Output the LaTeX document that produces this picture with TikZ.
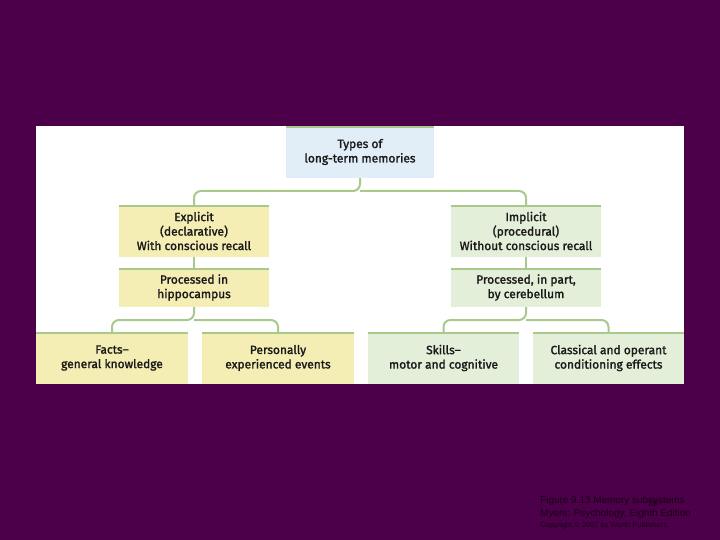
\documentclass[tikz,border=0pt]{standalone}
\usepackage{fontspec}
\setmainfont{Fira Sans}
\newfontfamily\footfont{Liberation Sans}
\definecolor{bgpurple}{HTML}{4B0049}
\definecolor{boxyellow}{HTML}{F4EDB4}
\definecolor{boxgreen}{HTML}{E4EFDA}
\definecolor{boxblue}{HTML}{E2EEF7}
\definecolor{linegreen}{HTML}{A9C98B}
\definecolor{foottext}{HTML}{1A0018}
\tikzset{
  box/.style={inner sep=0pt, align=center, font=\fontsize{12}{14.5}\selectfont\addfontfeatures{FakeBold=1.6}, text=black!90},
  ybox/.style={box, fill=boxyellow},
  gbox/.style={box, fill=boxgreen},
  bbox/.style={box, fill=boxblue},
  topline/.style={draw=linegreen, line width=2.5bp},
  conn/.style={draw=linegreen, line width=2bp, rounded corners=7bp},
  foot/.style={anchor=west, inner sep=0pt, text=foottext, font=\footfont\fontsize{10}{12}\selectfont}
}
\begin{document}
\begin{tikzpicture}[x=1bp,y=-1bp]
\fill[bgpurple] (0,0) rectangle (720,540);
\useasboundingbox (0,0) rectangle (720,540);
\fill[white] (36,126) rectangle (684,384);
% boxes
\node[bbox, minimum width=148bp, minimum height=52bp] (top) at (360,152) {Types of\\long-term memories};
\node[ybox, minimum width=150bp, minimum height=52bp] (expl) at (194,231) {Explicit\\(declarative)\\With conscious recall};
\node[ybox, minimum width=150bp, minimum height=39bp] (hippo) at (194,287.5) {Processed in\\hippocampus};
\node[gbox, minimum width=150bp, minimum height=52bp] (impl) at (526,231) {Implicit\\(procedural)\\Without conscious recall};
\node[gbox, minimum width=150bp, minimum height=39bp] (cereb) at (526,287.5) {Processed, in part,\\by cerebellum};
\node[ybox, minimum width=152bp, minimum height=52bp] (facts) at (112,358) {Facts--\\general knowledge};
\node[ybox, minimum width=152bp, minimum height=52bp] (pers) at (278,358) {Personally\\experienced events};
\node[gbox, minimum width=151bp, minimum height=52bp] (skills) at (443.5,358) {Skills--\\motor and cognitive};
\node[gbox, minimum width=151bp, minimum height=52bp] (class) at (608.5,358) {Classical and operant\\conditioning effects};
% top borders
\foreach \n in {top,expl,hippo,impl,cereb,facts,pers,skills,class}
  \draw[topline] ([yshift=-1.25bp]\n.north west) -- ([yshift=-1.25bp]\n.north east);
% connectors
\coordinate (j1) at (360,191);
\coordinate (j2) at (194,320);
\coordinate (j3) at (526,320);
\draw[conn] (top.south) -- (j1) -| (expl.north);
\draw[conn] (j1) -| (impl.north);
\draw[conn] (expl.south) -- (hippo.north);
\draw[conn] (impl.south) -- (cereb.north);
\draw[conn] (hippo.south) -- (j2) -| (facts.north);
\draw[conn] (j2) -| (pers.north);
\draw[conn] (cereb.south) -- (j3) -| (skills.north);
\draw[conn] (j3) -| (class.north);
% footer
\node[foot] (f1) at (540,501) {Figure 9.13 Memory subsystems};
\node[foot] (f2) at (540,514) {Myers: Psychology, Eighth Edition};
\node[foot, font=\footfont\fontsize{7.5}{9}\selectfont] (f3) at (540,526) {Copyright \textcopyright{} 2007 by Worth Publishers};
\node[inner sep=0pt, text=foottext, font=\footfont\fontsize{9}{10}\selectfont] (pg) at (653,503) {28};
\end{tikzpicture}
\end{document}
